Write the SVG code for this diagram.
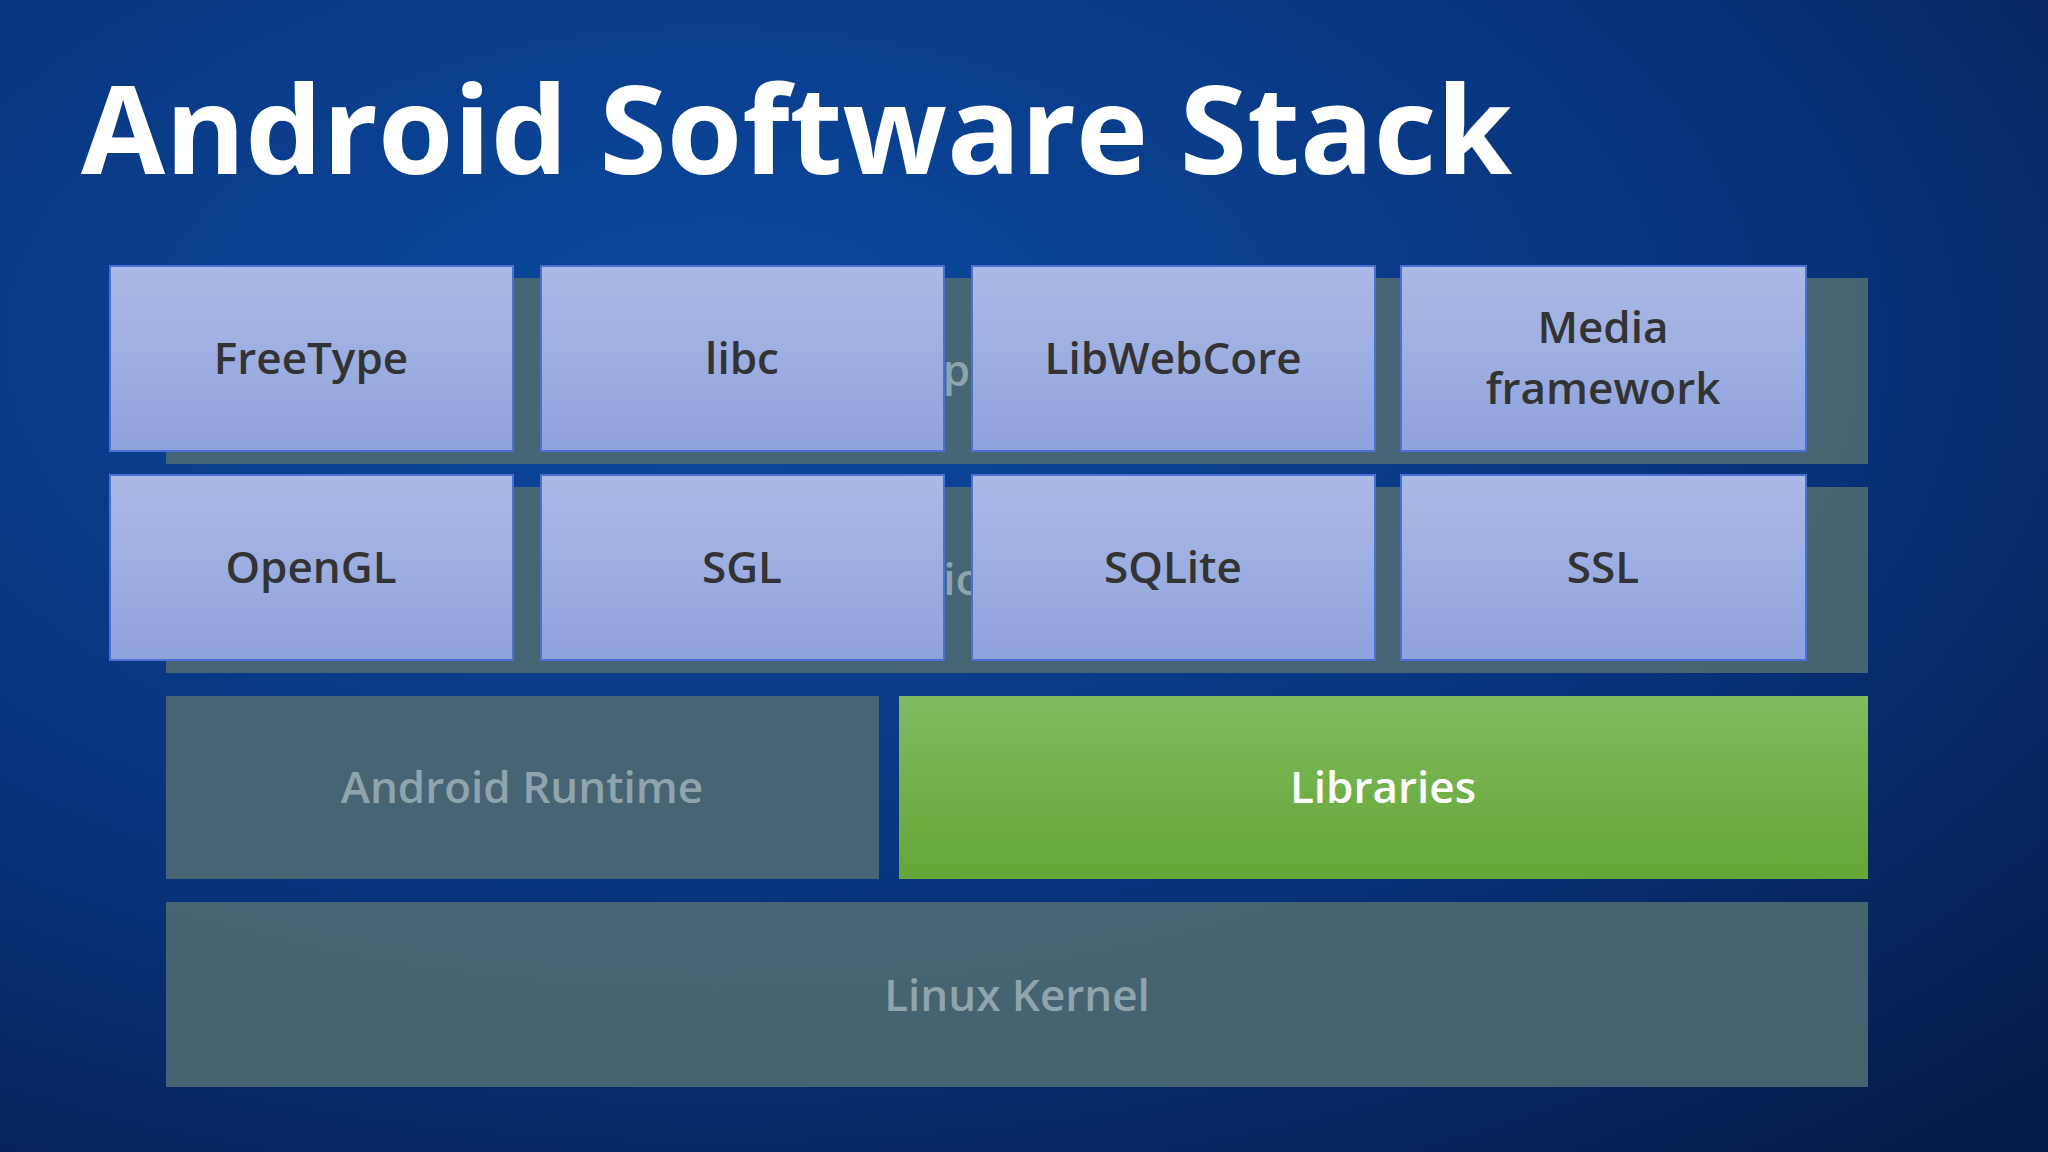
<svg xmlns="http://www.w3.org/2000/svg" width="2048" height="1152" viewBox="0 0 2048 1152">
<defs>
<radialGradient id="bg" cx="0.35" cy="0.3" r="0.9">
<stop offset="0" stop-color="#0b4aa0"/><stop offset="0.6" stop-color="#08327a"/><stop offset="1" stop-color="#061c4c"/>
</radialGradient>
<linearGradient id="box" x1="0" y1="0" x2="0" y2="1"><stop offset="0" stop-color="#abbae6"/><stop offset="1" stop-color="#8ea2dc"/></linearGradient>
<linearGradient id="green" x1="0" y1="0" x2="0" y2="1"><stop offset="0" stop-color="#80bb5e"/><stop offset="1" stop-color="#64a637"/></linearGradient>
<style>
.layer{fill:#4c6872;opacity:0.92}
.dim{font-family:"Open Sans","Liberation Sans",sans-serif;font-weight:600;font-size:44px;fill:#8fa4ac;text-anchor:middle}
.b rect{fill:url(#box);stroke:#4b6fd2;stroke-width:2}
.b text{font-family:"Open Sans","Liberation Sans",sans-serif;font-weight:600;font-size:44px;fill:#333;text-anchor:middle}
</style>
</defs>
<rect width="2048" height="1152" fill="url(#bg)"/>
<text x="81" y="174" font-family="Open Sans, Liberation Sans, sans-serif" font-weight="700" font-size="122" fill="#fff">Android Software Stack</text>
<g id="applications"><rect class="layer" x="166" y="278" width="1702" height="186"/><text class="dim" x="1017" y="386">Applications</text></g>
<g id="framework"><rect class="layer" x="166" y="487" width="1702" height="186"/><text class="dim" x="1017" y="595">Application Framework</text></g>
<g id="runtime"><rect class="layer" x="166" y="696" width="713" height="183"/><text class="dim" x="522" y="803">Android Runtime</text></g>
<g id="libraries"><rect x="899" y="696" width="969" height="183" fill="url(#green)"/><text x="1383" y="803" font-family="Open Sans, Liberation Sans, sans-serif" font-weight="600" font-size="44" fill="#fff" text-anchor="middle">Libraries</text></g>
<g id="kernel"><rect class="layer" x="166" y="902" width="1702" height="185"/><text class="dim" x="1017" y="1011">Linux Kernel</text></g>
<g id="freetype" class="b"><rect x="110" y="266" width="403" height="185"/><text x="311" y="374">FreeType</text></g>
<g id="libc" class="b"><rect x="541" y="266" width="403" height="185"/><text x="742" y="374">libc</text></g>
<g id="libwebcore" class="b"><rect x="972" y="266" width="403" height="185"/><text x="1173" y="374">LibWebCore</text></g>
<g id="media" class="b"><rect x="1401" y="266" width="405" height="185"/><text x="1603" y="343">Media</text><text x="1603" y="404">framework</text></g>
<g id="opengl" class="b"><rect x="110" y="475" width="403" height="185"/><text x="311" y="583">OpenGL</text></g>
<g id="sgl" class="b"><rect x="541" y="475" width="403" height="185"/><text x="742" y="583">SGL</text></g>
<g id="sqlite" class="b"><rect x="972" y="475" width="403" height="185"/><text x="1173" y="583">SQLite</text></g>
<g id="ssl" class="b"><rect x="1401" y="475" width="405" height="185"/><text x="1603" y="583">SSL</text></g>
<g id="connectors"/>
</svg>
